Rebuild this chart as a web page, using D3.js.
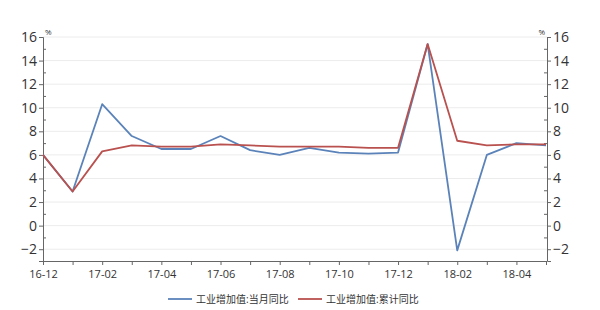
<!DOCTYPE html>
<html><head><meta charset="utf-8">
<script src="https://cdn.jsdelivr.net/npm/d3@7/dist/d3.min.js"></script>
<style>body{margin:0;background:#fff}svg{display:block}text{font-family:"Open Sans","Noto Sans CJK SC",sans-serif}</style>
</head><body><svg id="c" width="600" height="310"></svg>
<script>
const months = ["16-12","17-01","17-02","17-03","17-04","17-05","17-06","17-07","17-08","17-09","17-10","17-11","17-12","18-01","18-02","18-03","18-04","18-05"];
const monthly = [6.0,2.9,10.3,7.6,6.5,6.5,7.6,6.4,6.0,6.6,6.2,6.1,6.2,15.4,-2.1,6.0,7.0,6.8];
const cumulative = [6.0,2.9,6.3,6.8,6.7,6.7,6.9,6.8,6.7,6.7,6.7,6.6,6.6,15.4,7.2,6.8,6.9,6.9];
const yTicks = [-2,0,2,4,6,8,10,12,14,16];
const xLabels = ["16-12","17-02","17-04","17-06","17-08","17-10","17-12","18-02","18-04"];
const seriesNames = ["工业增加值:当月同比","工业增加值:累计同比"];
const colors = ["#5b83b9","#b9514f"];

const svg = d3.select("#c");
const L = 43, R = 547, T = 37, B = 261;
const x = d3.scalePoint().domain(months).range([L, 546]);
const y = d3.scaleLinear().domain([-3,16]).range([B, T]);

// gridlines
svg.append("g").selectAll("line").data(yTicks).join("line")
  .attr("x1", L).attr("x2", R).attr("y1", d=>y(d)).attr("y2", d=>y(d))
  .attr("stroke", "#ececec").attr("stroke-width", 1);

const minor = d3.range(-3, 16, 1).filter(v => !yTicks.includes(v));

// left axis
const la = svg.append("g").attr("transform", `translate(${L},0)`)
  .call(d3.axisLeft(y).tickValues(yTicks).tickSize(4).tickPadding(2));
la.select(".domain").attr("stroke", "#666");
la.selectAll(".tick line").attr("stroke", "#666");
la.selectAll("text").attr("font-size", 14).attr("fill", "#333");
la.append("g").selectAll("line").data(minor).join("line")
  .attr("x1", 0).attr("x2", 3).attr("y1", d=>y(d)+0.5).attr("y2", d=>y(d)+0.5).attr("stroke", "#666");

// right axis
const ra = svg.append("g").attr("transform", `translate(${R},0)`)
  .call(d3.axisRight(y).tickValues(yTicks).tickSize(4).tickPadding(2));
ra.select(".domain").attr("stroke", "#666");
ra.selectAll(".tick line").attr("stroke", "#666");
ra.selectAll("text").attr("font-size", 14).attr("fill", "#333");
ra.append("g").selectAll("line").data(minor).join("line")
  .attr("x1", -3).attr("x2", 0).attr("y1", d=>y(d)+0.5).attr("y2", d=>y(d)+0.5).attr("stroke", "#666");

// x axis
const xa = svg.append("g").attr("transform", `translate(0,${B})`)
  .call(d3.axisBottom(x).tickValues(months).tickSize(4).tickPadding(5)
    .tickFormat(d => xLabels.includes(d) ? d : ""));
xa.select(".domain").attr("d", `M${L},0.5H${R}`).attr("stroke", "#666");
xa.selectAll(".tick line").attr("stroke", "#666");
xa.selectAll("text").attr("font-size", 11).attr("fill", "#333");

// unit labels
svg.append("text").attr("x", L+2).attr("y", T-2).attr("font-size", 8).attr("fill", "#333").text("%");
svg.append("text").attr("x", R-2).attr("y", T-2).attr("font-size", 8).attr("fill", "#333").attr("text-anchor","end").text("%");

// lines
const line = d3.line().x((d,i)=>x(months[i])).y(d=>y(d));
[monthly, cumulative].forEach((s,k) => {
  svg.append("path").datum(s).attr("d", line).attr("fill","none")
    .attr("stroke", colors[k]).attr("stroke-width", 1.8).attr("stroke-linejoin","round");
});
// redraw cumulative on top already (order: blue then red)

// legend
const lg = svg.append("g");
const lx = [168, 298];
seriesNames.forEach((n,k) => {
  lg.append("line").attr("x1", lx[k]).attr("x2", lx[k]+24).attr("y1", 299).attr("y2", 299)
    .attr("stroke", colors[k]).attr("stroke-width", 1.8);
  lg.append("text").attr("x", lx[k]+28).attr("y", 303).attr("font-size", 10).attr("fill","#333").text(n);
});
</script></body></html>
